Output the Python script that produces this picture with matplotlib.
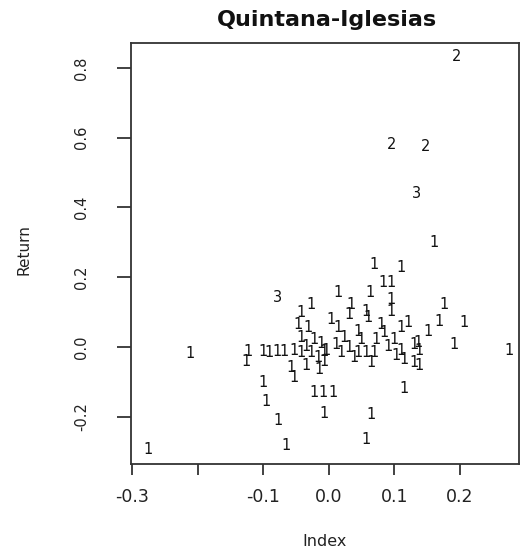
import matplotlib
matplotlib.use("Agg")
import matplotlib.pyplot as plt

plt.rcParams['font.family'] = ['DejaVu Sans']

title = "Quintana-Iglesias"
x_label = "Index"
y_label = "Return"

x_ticks = [-0.3, -0.2, -0.1, 0.0, 0.1, 0.2]
x_tick_labels = ["-0.3", "", "-0.1", "0.0", "0.1", "0.2"]
y_ticks = [-0.2, 0.0, 0.2, 0.4, 0.6, 0.8]
y_tick_labels = ["-0.2", "0.0", "0.2", "0.4", "0.6", "0.8"]

index_vals = [
    0.194, 0.095, 0.147,
    0.134, -0.078,
    0.160, -0.212, -0.276, 0.275, 0.069, 0.110, 0.082, 0.095, 0.014, 0.063,
    0.095, 0.034, 0.031, 0.056, 0.060, 0.095, 0.176, 0.168, 0.206, 0.151,
    0.191, 0.014, 0.044, 0.079, 0.084, 0.110, 0.121, 0.136, 0.137, 0.130,
    0.137, -0.005, 0.011, 0.018, 0.031, 0.038, 0.044, 0.056, 0.069, 0.064,
    0.090, 0.099, 0.110, 0.115, -0.008, -0.027, -0.043, -0.047, -0.032, -0.043,
    -0.023, -0.012, -0.124, -0.127, -0.101, -0.092, -0.079, -0.069, -0.053, -0.043,
    -0.027, -0.017, -0.008, -0.058, -0.053, -0.035, -0.015, -0.101, -0.096, -0.078,
    -0.066, -0.023, -0.009, 0.006, -0.008, 0.064, 0.056, 0.115, 0.003, 0.023,
    -0.035, 0.049, 0.102, 0.072, 0.130,
]
return_vals = [
    0.833, 0.580, 0.575,
    0.440, 0.141,
    0.299, -0.020, -0.293, -0.009, 0.236, 0.227, 0.184, 0.184, 0.155, 0.155,
    0.135, 0.121, 0.092, 0.101, 0.083, 0.101, 0.121, 0.072, 0.069, 0.043,
    0.006, 0.055, 0.043, 0.063, 0.040, 0.055, 0.069, 0.014, -0.009, -0.046,
    -0.052, -0.009, 0.006, -0.017, -0.003, -0.029, -0.017, -0.017, -0.017, -0.046,
    0.000, 0.020, -0.009, -0.037, -0.043, 0.121, 0.098, 0.063, 0.057, 0.026,
    0.020, 0.011, -0.014, -0.043, -0.014, -0.017, -0.014, -0.014, -0.009, -0.017,
    -0.017, -0.029, -0.014, -0.060, -0.089, -0.052, -0.066, -0.103, -0.158, -0.210,
    -0.282, -0.132, -0.132, -0.132, -0.190, -0.195, -0.267, -0.118, 0.078, 0.026,
    0.000, 0.020, -0.026, 0.020, 0.006,
]
cluster_labels = (["2"] * 3 + ["3"] * 2 + ["1"] * 85)

W, H = 521, 555
fig = plt.figure(figsize=(W / 100, H / 100), dpi=100)
ax = fig.add_axes([131 / W, 1 - 464 / H, (519 - 131) / W, (464 - 43) / H])

ink = "#111111"
for x, y, s in zip(index_vals, return_vals, cluster_labels):
    ax.text(x, y, s, ha="center", va="center", fontsize=10.5, color=ink)

ax.set_xlim(-0.302, 0.290)
ax.set_ylim(-0.336, 0.872)

ax.set_xticks(x_ticks)
ax.set_xticklabels(x_tick_labels)
ax.set_yticks(y_ticks)
ax.set_yticklabels(y_tick_labels, rotation=90, va="center")

ax.tick_params(axis="x", direction="out", length=8, width=1.3, pad=9,
               labelsize=12.5, colors="#333333", labelcolor="#222222")
ax.tick_params(axis="y", direction="out", length=10, width=1.3, pad=20,
               labelsize=10.5, colors="#333333", labelcolor="#222222")
for sp in ax.spines.values():
    sp.set_linewidth(1.3)
    sp.set_color("#333333")

fig.text(327 / W, 1 - 20 / H, title, ha="center", va="center",
         fontsize=16, fontweight="bold", color=ink)
fig.text(325 / W, 1 - 542 / H, x_label, ha="center", va="center",
         fontsize=11.5, color="#222222")
fig.text(24 / W, 1 - 250 / H, y_label, ha="center", va="center",
         fontsize=11, rotation=90, color="#222222")

fig.savefig("out.png", dpi=100)
